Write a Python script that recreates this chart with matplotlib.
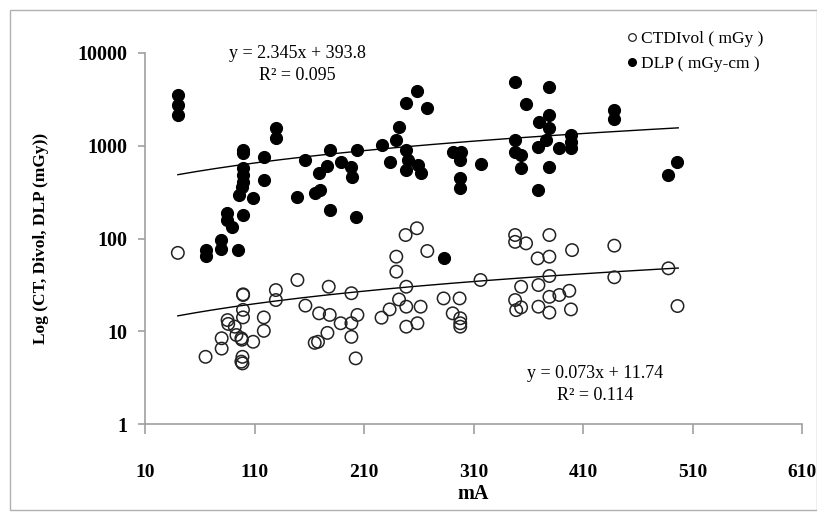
import matplotlib
matplotlib.use("Agg")
import matplotlib.pyplot as plt
import numpy as np
from matplotlib.patches import Rectangle
from matplotlib.lines import Line2D
from matplotlib.ticker import FixedLocator, NullLocator, FixedFormatter

plt.rcParams['font.family'] = ['Liberation Serif', 'DejaVu Serif']

# CTDIvol (mGy) points: mA, value
ctdi_ma = [40, 65.3, 80, 80, 85.4, 86, 92, 93.5, 98, 98.5, 98, 99, 99, 99.6, 99.6,
           99.5, 99.5, 108.8, 118.5, 118.5, 129.5, 129.5, 149.2, 156.5, 165, 168,
           169, 178.7, 176.6, 177.8, 188.7, 198.5, 198.5, 198.5, 204, 202.4, 226,
           233.4, 242, 239.5, 239.5, 248, 258.3, 267.8, 248.6, 248.6, 248.6, 258.8,
           261.7, 282.7, 297.3, 291, 297.9, 297.9, 297.9, 316.4, 348, 348, 358,
           379.3, 368.6, 379.3, 400, 379.3, 353.5, 369.3, 348, 349, 353.5, 369.3,
           379.3, 379.3, 388.4, 397.5, 399, 438.6, 438.6, 488, 496.3]
ctdi_val = [70, 5.3, 8.4, 6.5, 13.2, 12, 11.2, 9.1, 8.4, 8.1, 4.7, 4.5, 5.3, 24.6, 25,
            17, 14.1, 7.7, 14.1, 10.1, 27.8, 21.7, 35.7, 18.9, 7.5, 7.7,
            15.6, 15, 9.6, 30.2, 12.2, 25.7, 12.2, 8.7, 15, 5.1, 14,
            17.2, 22, 43.9, 63.7, 109, 129, 73.3, 30.2, 18.4, 11.2, 12.2,
            18.4, 22.6, 22.6, 15.6, 13.8, 12.2, 11.2, 35.7, 109, 92, 88.6,
            109, 61, 63.7, 75, 39.4, 30.2, 31.5, 21.7, 16.9, 18.1, 18.4,
            23.5, 15.9, 24.6, 27.3, 17.2, 83.7, 38.2, 47.7, 18.7]

# DLP (mGy-cm) points: mA, value
dlp_ma = [40, 40, 40, 65.3, 65.3, 79.3, 79.3, 95, 84.5, 84.5, 89, 99.6, 95.7, 108.8,
          99.6, 99.6, 99.6, 99.6, 99.6, 98.5, 118.8, 118.8, 129.5, 129.5, 156.5,
          149.2, 165, 169.6, 178.7, 169, 176.6, 189.4, 198.5, 199.4, 204, 179.3,
          203, 226, 233.4, 242, 239.5, 248, 258.3, 267.8, 248.6, 250, 248.6, 259.2,
          262.3, 291, 298.8, 297.9, 316.4, 297.3, 297.3, 282.7, 348, 358, 379.3,
          379.3, 370.2, 379.3, 348, 348, 353.5, 353.5, 368.6, 376.3, 379.3, 369.3,
          388.4, 399, 399, 399, 438.6, 438.6, 496.3, 488]
dlp_val = [3524, 2750, 2147, 75, 64, 96, 78, 75, 187, 158, 134, 178, 294, 271,
           900, 830, 575, 484, 406, 359, 751, 427, 1543, 1203, 702,
           282, 307, 333, 900, 505, 605, 673, 586, 457, 900, 203,
           172, 1018, 673, 1604, 1153, 2870, 3893, 2535, 900, 702, 548, 620,
           505, 863, 863, 702, 631, 446, 348, 61, 4907, 2799, 4330,
           2147, 1818, 1543, 1153, 863, 795, 571, 977, 1153, 595, 333,
           938, 1306, 1106, 938, 2428, 1928, 673, 484]

# Linear trendlines as stated in the chart
dlp_slope, dlp_intercept = 2.345, 393.8
ctdi_slope, ctdi_intercept = 0.073, 11.74
trend_ma = [40, 497]

x_ticks = [10, 110, 210, 310, 410, 510, 610]
y_ticks = [1, 10, 100, 1000, 10000]
y_tick_labels = ['1', '10', '100', '1000', '10000']

fig = plt.figure(figsize=(8.17, 5.12), dpi=100)
fig.patches.append(Rectangle((10/817, 2/512), 806.5/817, 500/512, transform=fig.transFigure,
                             fill=False, edgecolor='#b0b0b0', linewidth=1.0))
ax = fig.add_axes([145/817, 1 - 424/512, 657/817, 371/512])

ax.set_yscale('log')
ax.set_xlim(10, 610)
ax.set_ylim(1, 10000)

ax.scatter(dlp_ma, dlp_val, s=75, facecolor='black', edgecolor='black', linewidth=0.8,
           zorder=3)
ax.scatter(ctdi_ma, ctdi_val, s=80, facecolor='none', edgecolor='#222222', linewidth=1.1,
           zorder=3)

tx = np.linspace(trend_ma[0], trend_ma[1], 200)
ax.plot(tx, dlp_slope * tx + dlp_intercept, color='black', linewidth=1.0, zorder=2)
ax.plot(tx, ctdi_slope * tx + ctdi_intercept, color='black', linewidth=1.0, zorder=2)

for s in ['top', 'right']:
    ax.spines[s].set_visible(False)
for s in ['left', 'bottom']:
    ax.spines[s].set_color('#a0a0a0')
    ax.spines[s].set_linewidth(1.2)

ax.xaxis.set_major_locator(FixedLocator(x_ticks))
ax.yaxis.set_major_locator(FixedLocator(y_ticks))
ax.yaxis.set_major_formatter(FixedFormatter(y_tick_labels))
ax.yaxis.set_minor_locator(NullLocator())
ax.tick_params(axis='x', direction='out', length=7, width=1.2, color='#a0a0a0', pad=22,
               labelsize=14)
ax.tick_params(axis='y', direction='out', length=5, width=1.2, color='#a0a0a0', pad=8,
               labelsize=14.5)
for lab in ax.get_xticklabels() + ax.get_yticklabels():
    lab.set_fontweight('bold')

ax.set_xlabel('mA', fontsize=14.5, fontweight='bold', labelpad=2)
ax.set_ylabel('Log (CT, Divol, DLP (mGy))', fontsize=12.5, fontweight='bold', labelpad=20)

fig.text(297/817, 1 - 53/512, 'y = 2.345x + 393.8', ha='center', va='center', fontsize=13)
fig.text(297/817, 1 - 75/512, 'R² = 0.095', ha='center', va='center', fontsize=13)
fig.text(595/817, 1 - 374/512, 'y = 0.073x + 11.74', ha='center', va='center', fontsize=13)
fig.text(595/817, 1 - 396/512, 'R² = 0.114', ha='center', va='center', fontsize=13)

# Legend
handles = [Line2D([], [], marker='o', linestyle='none', markersize=5.5, markerfacecolor='none',
                  markeredgecolor='#222222', markeredgewidth=0.9),
           Line2D([], [], marker='o', linestyle='none', markersize=5.5, markerfacecolor='black',
                  markeredgecolor='black')]
fig.legend(handles, ['CTDIvol ( mGy )', 'DLP ( mGy-cm )'], loc='upper left',
           bbox_to_anchor=(615/817, 1 - 22/512), frameon=False, fontsize=12.5,
           handletextpad=0.0, handlelength=1.0, labelspacing=0.5, borderpad=0)

fig.savefig('out.png', dpi=100)
